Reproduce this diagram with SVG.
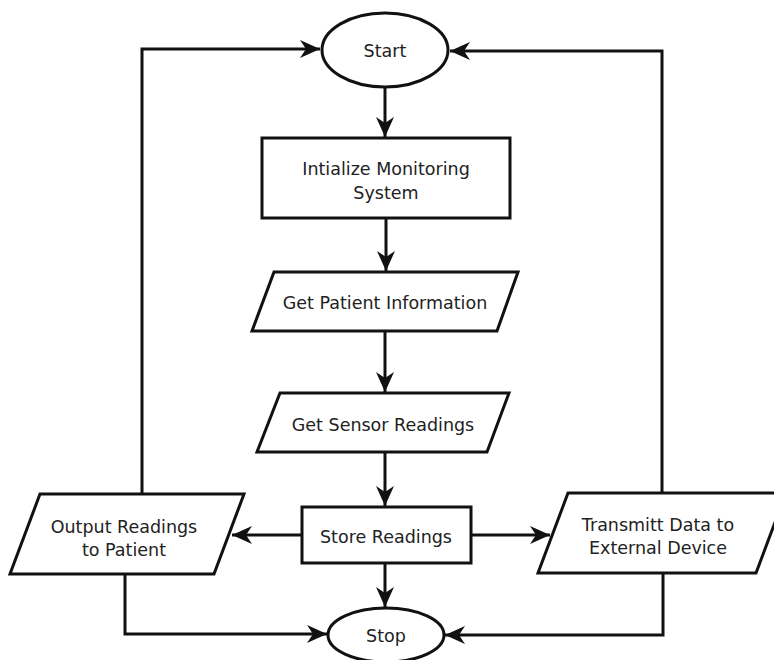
<svg xmlns="http://www.w3.org/2000/svg" width="774" height="660" viewBox="0 0 774 660">
<defs>
<style>
.s{fill:#fff;stroke:#111;stroke-width:3;stroke-linejoin:miter}
.c{fill:none;stroke:#111;stroke-width:3}
.t{font-family:"DejaVu Sans",sans-serif;font-size:17.5px;fill:#222;text-anchor:middle}
</style>
<marker id="a" markerUnits="userSpaceOnUse" markerWidth="22" markerHeight="18" refX="20" refY="9" orient="auto" viewBox="0 0 22 18">
<path d="M0,0 L20,9 L0,18 L6,9 Z" fill="#111"/>
</marker>
</defs>
<rect width="774" height="660" fill="#fff"/>
<g id="connectors">
<path class="c" d="M385,87 L385,137" marker-end="url(#a)"/>
<path class="c" d="M386,218 L386,271" marker-end="url(#a)"/>
<path class="c" d="M385,331 L385,392" marker-end="url(#a)"/>
<path class="c" d="M385,452 L385,506" marker-end="url(#a)"/>
<path class="c" d="M385,563 L385,607" marker-end="url(#a)"/>
<path class="c" d="M302,535 L232,535" marker-end="url(#a)"/>
<path class="c" d="M471,535 L550,535" marker-end="url(#a)"/>
<path class="c" d="M142,494 L142,49 L320,49" marker-end="url(#a)"/>
<path class="c" d="M662,493 L662,51 L450,51" marker-end="url(#a)"/>
<path class="c" d="M125,574 L125,634 L327,634" marker-end="url(#a)"/>
<path class="c" d="M663,573 L663,635 L445,635" marker-end="url(#a)"/>
</g>
<g id="start">
<ellipse class="s" cx="385" cy="50" rx="63" ry="37"/>
<text class="t" x="385" y="57">Start</text>
</g>
<g id="init">
<rect class="s" x="262" y="138" width="248" height="80"/>
<text class="t" x="386" y="175">Intialize Monitoring</text>
<text class="t" x="386" y="199">System</text>
</g>
<g id="patient">
<polygon class="s" points="274,272 518,272 497,331 252,331"/>
<text class="t" x="385" y="309">Get Patient Information</text>
</g>
<g id="sensor">
<polygon class="s" points="280,393 509,393 487,452 257,452"/>
<text class="t" x="383" y="431">Get Sensor Readings</text>
</g>
<g id="store">
<rect class="s" x="302" y="507" width="169" height="56"/>
<text class="t" x="386" y="543">Store Readings</text>
</g>
<g id="output">
<polygon class="s" points="40,494 244,494 214,574 10,574"/>
<text class="t" x="124" y="533">Output Readings</text>
<text class="t" x="124" y="556">to Patient</text>
</g>
<g id="transmit">
<polygon class="s" points="568,493 786,493 756,573 538,573"/>
<text class="t" x="658" y="531">Transmitt Data to</text>
<text class="t" x="658" y="554">External Device</text>
</g>
<g id="stop">
<ellipse class="s" cx="386" cy="635" rx="58" ry="27"/>
<text class="t" x="386" y="642">Stop</text>
</g>
</svg>
